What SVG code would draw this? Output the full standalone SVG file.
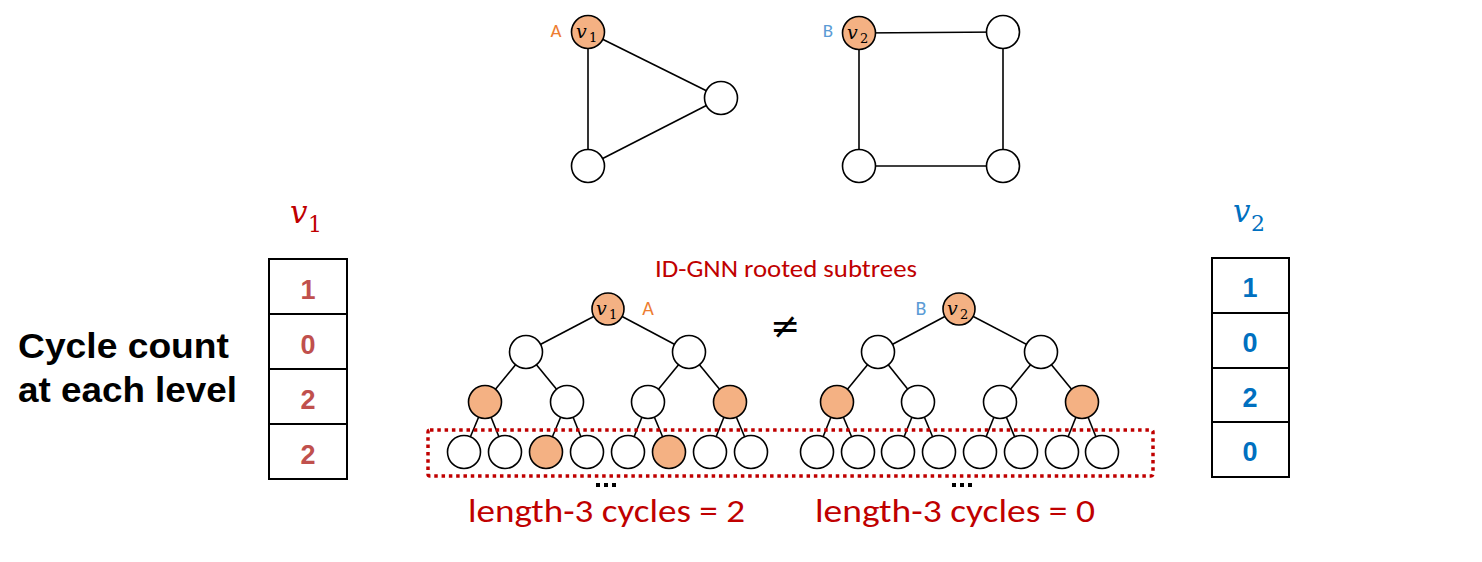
<svg xmlns="http://www.w3.org/2000/svg" width="1482" height="562" viewBox="0 0 1482 562">
<style>
.n{fill:#fff;stroke:#000;stroke-width:1.6}
.o{fill:#F4B183;stroke:#000;stroke-width:1.6}
.e{stroke:#000;stroke-width:1.6;fill:none}
.mv{font-family:"DejaVu Serif","Liberation Serif",serif;font-style:italic;fill:#000}
.ms{font-family:"DejaVu Serif","Liberation Serif",serif;fill:#000}
.cal{font-family:Carlito,"Open Sans","Liberation Sans",sans-serif}
.red{fill:#C00000}
.cellr{font-family:"Liberation Sans",Arial,sans-serif;font-weight:bold;font-size:27px;fill:#C0504D;text-anchor:middle}
.cellb{font-family:"Liberation Sans",Arial,sans-serif;font-weight:bold;font-size:27px;fill:#0070C0;text-anchor:middle}
.box{fill:#fff;stroke:#000;stroke-width:2}
</style>
<rect width="1482" height="562" fill="#fff"/>

<g id="connectors">
  <line class="e" x1="588" y1="32" x2="721" y2="98"/>
  <line class="e" x1="588" y1="32" x2="588" y2="166"/>
  <line class="e" x1="588" y1="166" x2="721" y2="98"/>
  <line class="e" x1="859" y1="33" x2="1003" y2="32"/>
  <line class="e" x1="859" y1="33" x2="859" y2="166"/>
  <line class="e" x1="1003" y1="32" x2="1003" y2="166"/>
  <line class="e" x1="859" y1="166" x2="1003" y2="166"/>
  <line class="e" x1="608" y1="309" x2="526" y2="352"/>
  <line class="e" x1="608" y1="309" x2="689" y2="352"/>
  <line class="e" x1="526" y1="352" x2="485" y2="402"/>
  <line class="e" x1="526" y1="352" x2="567" y2="402"/>
  <line class="e" x1="689" y1="352" x2="648" y2="402"/>
  <line class="e" x1="689" y1="352" x2="730" y2="402"/>
  <line class="e" x1="485" y1="402" x2="464" y2="452"/>
  <line class="e" x1="485" y1="402" x2="505" y2="452"/>
  <line class="e" x1="567" y1="402" x2="546" y2="452"/>
  <line class="e" x1="567" y1="402" x2="587" y2="452"/>
  <line class="e" x1="648" y1="402" x2="628" y2="452"/>
  <line class="e" x1="648" y1="402" x2="669" y2="452"/>
  <line class="e" x1="730" y1="402" x2="710" y2="452"/>
  <line class="e" x1="730" y1="402" x2="751" y2="452"/>
  <line class="e" x1="959" y1="309" x2="878" y2="352"/>
  <line class="e" x1="959" y1="309" x2="1041" y2="352"/>
  <line class="e" x1="878" y1="352" x2="837" y2="402"/>
  <line class="e" x1="878" y1="352" x2="918" y2="402"/>
  <line class="e" x1="1041" y1="352" x2="1000" y2="402"/>
  <line class="e" x1="1041" y1="352" x2="1082" y2="402"/>
  <line class="e" x1="837" y1="402" x2="817" y2="452"/>
  <line class="e" x1="837" y1="402" x2="858" y2="452"/>
  <line class="e" x1="918" y1="402" x2="898" y2="452"/>
  <line class="e" x1="918" y1="402" x2="939" y2="452"/>
  <line class="e" x1="1000" y1="402" x2="980" y2="452"/>
  <line class="e" x1="1000" y1="402" x2="1021" y2="452"/>
  <line class="e" x1="1082" y1="402" x2="1062" y2="452"/>
  <line class="e" x1="1082" y1="402" x2="1102" y2="452"/>
</g>

<g id="gA-v1">
  <circle class="o" cx="588" cy="32" r="16.5"/>
  <text class="mv" x="576" y="38" font-size="19">v</text>
  <text class="ms" x="589" y="42" font-size="13">1</text>
  <text class="cal" x="556" y="37" font-size="19" fill="#ED7D31" text-anchor="middle">A</text>
</g>
<g id="gA-n2"><circle class="n" cx="721" cy="98" r="16.5"/></g>
<g id="gA-n3"><circle class="n" cx="588" cy="166" r="16.5"/></g>

<g id="gB-v2">
  <circle class="o" cx="859" cy="33" r="16.5"/>
  <text class="mv" x="847" y="39" font-size="19">v</text>
  <text class="ms" x="860" y="43" font-size="13">2</text>
  <text class="cal" x="828" y="37" font-size="19" fill="#5B9BD5" text-anchor="middle">B</text>
</g>
<g id="gB-n2"><circle class="n" cx="1003" cy="32" r="16.5"/></g>
<g id="gB-n3"><circle class="n" cx="859" cy="166" r="16.5"/></g>
<g id="gB-n4"><circle class="n" cx="1003" cy="166" r="16.5"/></g>

<g id="title">
  <text class="cal red" x="655" y="277" font-size="25" textLength="262" lengthAdjust="spacingAndGlyphs">ID-GNN rooted subtrees</text>
</g>

<g id="tL-root">
  <circle class="o" cx="608" cy="309" r="16"/>
  <text class="mv" x="596" y="315" font-size="19">v</text>
  <text class="ms" x="609" y="319" font-size="13">1</text>
  <text class="cal" x="648" y="315" font-size="20" fill="#ED7D31" text-anchor="middle">A</text>
</g>
<g id="tL-l1">
  <circle class="n" cx="526" cy="352" r="16.5"/>
  <circle class="n" cx="689" cy="352" r="16.5"/>
</g>
<g id="tL-l2">
  <circle class="o" cx="485" cy="402" r="16.5"/>
  <circle class="n" cx="567" cy="402" r="16.5"/>
  <circle class="n" cx="648" cy="402" r="16.5"/>
  <circle class="o" cx="730" cy="402" r="16.5"/>
</g>
<g id="tL-l3">
  <circle class="n" cx="464" cy="452" r="16.5"/>
  <circle class="n" cx="505" cy="452" r="16.5"/>
  <circle class="o" cx="546" cy="452" r="16.5"/>
  <circle class="n" cx="587" cy="452" r="16.5"/>
  <circle class="n" cx="628" cy="452" r="16.5"/>
  <circle class="o" cx="669" cy="452" r="16.5"/>
  <circle class="n" cx="710" cy="452" r="16.5"/>
  <circle class="n" cx="751" cy="452" r="16.5"/>
</g>

<g id="tR-root">
  <circle class="o" cx="959" cy="309" r="16"/>
  <text class="mv" x="947" y="315" font-size="19">v</text>
  <text class="ms" x="960" y="319" font-size="13">2</text>
  <text class="cal" x="921" y="315" font-size="20" fill="#5B9BD5" text-anchor="middle">B</text>
</g>
<g id="tR-l1">
  <circle class="n" cx="878" cy="352" r="16.5"/>
  <circle class="n" cx="1041" cy="352" r="16.5"/>
</g>
<g id="tR-l2">
  <circle class="o" cx="837" cy="402" r="16.5"/>
  <circle class="n" cx="918" cy="402" r="16.5"/>
  <circle class="n" cx="1000" cy="402" r="16.5"/>
  <circle class="o" cx="1082" cy="402" r="16.5"/>
</g>
<g id="tR-l3">
  <circle class="n" cx="817" cy="452" r="16.5"/>
  <circle class="n" cx="858" cy="452" r="16.5"/>
  <circle class="n" cx="898" cy="452" r="16.5"/>
  <circle class="n" cx="939" cy="452" r="16.5"/>
  <circle class="n" cx="980" cy="452" r="16.5"/>
  <circle class="n" cx="1021" cy="452" r="16.5"/>
  <circle class="n" cx="1062" cy="452" r="16.5"/>
  <circle class="n" cx="1102" cy="452" r="16.5"/>
</g>

<g id="neq">
  <text x="785" y="338" font-family="'DejaVu Sans',sans-serif" font-size="36" text-anchor="middle" fill="#000">≠</text>
</g>

<g id="leaf-box">
  <rect x="428" y="430" width="725" height="46" rx="2" fill="none" stroke="#C00000" stroke-width="3.5" stroke-dasharray="3.5 3.8"/>
</g>

<g id="ellipses">
  <rect x="596" y="483" width="4" height="4" fill="#000"/>
  <rect x="604" y="483" width="4" height="4" fill="#000"/>
  <rect x="612" y="483" width="4" height="4" fill="#000"/>
  <rect x="952" y="483" width="4" height="4" fill="#000"/>
  <rect x="960" y="483" width="4" height="4" fill="#000"/>
  <rect x="968" y="483" width="4" height="4" fill="#000"/>
</g>

<g id="cycles-labels">
  <text class="cal red" x="468" y="522" font-size="33" textLength="277" lengthAdjust="spacingAndGlyphs">length-3 cycles = 2</text>
  <text class="cal red" x="815" y="522" font-size="33" textLength="280" lengthAdjust="spacingAndGlyphs">length-3 cycles = 0</text>
</g>

<g id="cycle-count-label">
  <text x="18" y="358" font-family="'Liberation Sans',Arial,sans-serif" font-weight="bold" font-size="35" textLength="211" lengthAdjust="spacingAndGlyphs" fill="#000">Cycle count</text>
  <text x="18" y="402" font-family="'Liberation Sans',Arial,sans-serif" font-weight="bold" font-size="35" textLength="219" lengthAdjust="spacingAndGlyphs" fill="#000">at each level</text>
</g>

<g id="vec-v1">
  <text class="mv" x="290" y="223" font-size="31" style="fill:#C00000">v</text>
  <text class="ms" x="308" y="232" font-size="22" style="fill:#C00000">1</text>
  <rect class="box" x="269" y="259" width="78" height="55"/>
  <rect class="box" x="269" y="314" width="78" height="55"/>
  <rect class="box" x="269" y="369" width="78" height="55"/>
  <rect class="box" x="269" y="424" width="78" height="55"/>
  <text class="cellr" x="308" y="299">1</text>
  <text class="cellr" x="308" y="354">0</text>
  <text class="cellr" x="308" y="409">2</text>
  <text class="cellr" x="308" y="464">2</text>
</g>

<g id="vec-v2">
  <text class="mv" x="1233" y="222" font-size="31" style="fill:#0070C0">v</text>
  <text class="ms" x="1251" y="231" font-size="22" style="fill:#0070C0">2</text>
  <rect class="box" x="1212" y="258" width="77" height="55"/>
  <rect class="box" x="1212" y="313" width="77" height="55"/>
  <rect class="box" x="1212" y="368" width="77" height="54"/>
  <rect class="box" x="1212" y="422" width="77" height="55"/>
  <text class="cellb" x="1250" y="297">1</text>
  <text class="cellb" x="1250" y="352">0</text>
  <text class="cellb" x="1250" y="407">2</text>
  <text class="cellb" x="1250" y="461">0</text>
</g>
</svg>
